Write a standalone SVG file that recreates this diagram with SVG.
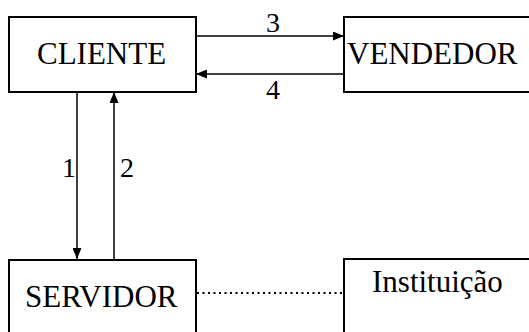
<svg xmlns="http://www.w3.org/2000/svg" width="529" height="332" viewBox="0 0 529 332">
<style>
.box{fill:#fff;stroke:#000;stroke-width:2}
.t{font-family:"Liberation Serif","Times New Roman",serif;font-size:31px;fill:#000}
.n{font-family:"Liberation Serif","Times New Roman",serif;font-size:28px;fill:#000}
.c{stroke:#000;stroke-width:1.5;fill:none}
</style>
<defs>
<marker id="ah" markerWidth="11" markerHeight="9" refX="11" refY="4.5" orient="auto" markerUnits="userSpaceOnUse">
<path d="M0,0 L11,4.5 L0,9 Z" fill="#000"/>
</marker>
</defs>
<rect width="529" height="332" fill="#fff"/>
<g id="cliente"><rect class="box" x="9" y="17" width="187" height="75"/><text class="t" x="37" y="64">CLIENTE</text></g>
<g id="vendedor"><rect class="box" x="344" y="17" width="200" height="75"/><text class="t" x="347" y="64">VENDEDOR</text></g>
<g id="servidor"><rect class="box" x="9" y="260" width="187" height="90"/><text class="t" x="25" y="307">SERVIDOR</text></g>
<g id="instituicao"><rect class="box" x="344" y="259" width="200" height="90"/><text class="t" x="372" y="292">Instituição</text></g>
<g id="connectors">
<line class="c" x1="196" y1="36" x2="344" y2="36" marker-end="url(#ah)"/>
<line class="c" x1="344" y1="74" x2="196" y2="74" marker-end="url(#ah)"/>
<line class="c" x1="77" y1="92" x2="77" y2="259" marker-end="url(#ah)"/>
<line class="c" x1="114" y1="259" x2="114" y2="92" marker-end="url(#ah)"/>
<line x1="197" y1="293" x2="344" y2="293" stroke="#000" stroke-width="2" stroke-dasharray="2,3.5"/>
<text class="n" x="266" y="32">3</text>
<text class="n" x="266" y="99">4</text>
<text class="n" x="62" y="177">1</text>
<text class="n" x="120" y="177">2</text>
</g>
</svg>
